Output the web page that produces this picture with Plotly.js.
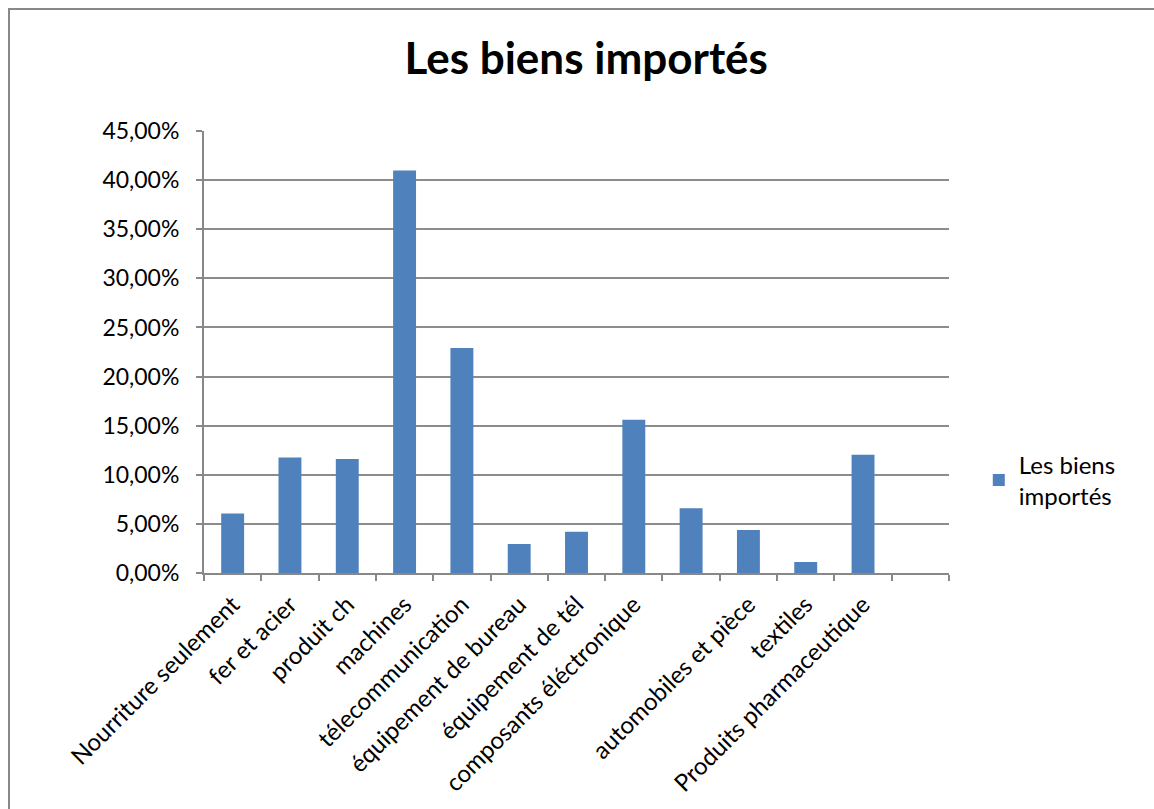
<!DOCTYPE html>
<html>
<head>
<meta charset="utf-8">
<script src="https://cdn.plot.ly/plotly-3.0.1.min.js"></script>
<style>
  html, body { margin: 0; padding: 0; background: #fff; }
  #frame { position: absolute; left: 8px; top: 8px; width: 1400px; height: 1000px;
           border-left: 2px solid #888; border-top: 2px solid #888; }
  #chart { position: absolute; left: 0; top: 0; width: 1154px; height: 809px; }
</style>
</head>
<body>
<div id="frame"></div>
<div id="chart"></div>
<script>
const categories = [
  "Nourriture seulement", "fer et acier", "produit ch", "machines",
  "télecommunication", "équipement de bureau", "équipement de tél",
  "composants éléctronique", " ", "automobiles et pièce", "textiles",
  "Produits pharmaceutique", "  "
];
const values = [0.0607, 0.1177, 0.1160, 0.4097, 0.2290, 0.0295, 0.0420,
                 0.1560, 0.0660, 0.0438, 0.0112, 0.1205, null];
const seriesName = "Les biens<br>importés";
const chartTitle = "Les biens importés";

const font = "Lato, 'Open Sans', sans-serif";

const trace = {
  type: "bar",
  x: categories,
  y: values,
  name: seriesName,
  marker: { color: "#4F81BD" },
  showlegend: true
};

const layout = {
  width: 1154, height: 809,
  paper_bgcolor: "rgba(0,0,0,0)",
  plot_bgcolor: "rgba(0,0,0,0)",
  margin: { l: 204, r: 205, t: 131, b: 236 },
  separators: ",.",
  bargap: 0.6,
  font: { family: font, size: 24, color: "#000" },
  title: { text: "<b>" + chartTitle + "</b>", x: 0.508, xanchor: "center",
           y: 0.928, yanchor: "middle",
           font: { family: font, size: 44, color: "#000" } },
  xaxis: {
    type: "category",
    showline: true, linecolor: "#888", linewidth: 2,
    ticks: "outside", tickson: "boundaries", ticklen: 6, tickwidth: 2, tickcolor: "#888",
    tickangle: -45, showgrid: false, ticklabelstandoff: 6,
    tickfont: { family: font, size: 24, color: "#000" },
    range: [-0.5, 12.5]
  },
  yaxis: {
    range: [0, 0.45], dtick: 0.05, tick0: 0, tickformat: ".2%",
    showline: true, linecolor: "#888", linewidth: 2,
    ticks: "outside", ticklen: 6, tickwidth: 2, tickcolor: "#888",
    showgrid: true, gridcolor: "#8c8c8c", gridwidth: 2,
    zeroline: false, ticklabelstandoff: 12,
    tickfont: { family: font, size: 23, color: "#000" }
  },
  legend: {
    x: 1.040, xanchor: "left", y: 0.21, yanchor: "middle",
    font: { family: font, size: 24, color: "#000" },
    itemwidth: 30, bgcolor: "rgba(0,0,0,0)"
  }
};

Plotly.newPlot("chart", [trace], layout, { displayModeBar: false, staticPlot: true });
</script>
</body>
</html>
